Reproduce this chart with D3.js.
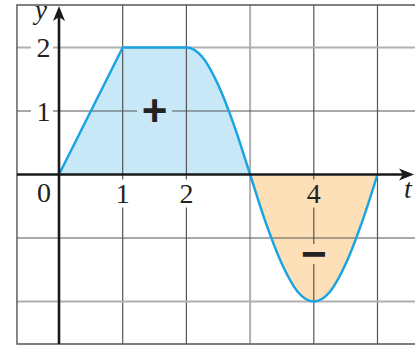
<!DOCTYPE html>
<html><head><meta charset="utf-8">
<script src="https://cdn.jsdelivr.net/npm/d3@7/dist/d3.min.js"></script>
<style>html,body{margin:0;padding:0;background:#fff;}svg{display:block;}</style>
</head><body>
<svg id="c" width="415" height="345"></svg>
<script>
// ---- data ----
const linearPart = [[0, 0], [1, 2]];
const curvedPart = [[1, 2], [2, 2], [2.25, 1.85], [2.5, 1.41], [2.75, 0.77], [3, 0],
  [3.25, -0.77], [3.5, -1.41], [3.75, -1.85], [4, -2], [4.25, -1.85], [4.5, -1.41], [4.75, -0.77], [5, 0]];
const xGrid = [1, 2, 3, 4, 5];
const yGrid = [2, 1, -1, -2];
const lightX = [3];
const lightY = [2, -2];
const xTickLabels = [{v: 1, t: "1"}, {v: 2, t: "2"}, {v: 4, t: "4"}];
const yTickLabels = [{v: 2, t: "2"}, {v: 1, t: "1"}];
const signs = [{x: 1.5, y: 1, t: "+"}, {x: 4, y: -1.25, t: "\u2212"}];
const splitX = 3;

// ---- scales ----
const x = d3.scaleLinear().domain([0, 5]).range([59, 377.5]);
const y = d3.scaleLinear().domain([-2, 2]).range([301.5, 47.5]);
const frame = {x0: x(-0.66), x1: 415, y0: y(2.67), y1: y(-2.67)};

const svg = d3.select("#c");
const blue = "#c8e8f8", orange = "#fde0b8";

// path
const l1 = d3.line().x(d => x(d[0])).y(d => y(d[1])).curve(d3.curveLinear)(linearPart);
const l2 = d3.line().x(d => x(d[0])).y(d => y(d[1])).curve(d3.curveMonotoneX)(curvedPart);
const curvePath = l1 + "L" + l2.slice(1);
const areaPath = curvePath + `L${x(5)},${y(0)}L${x(0)},${y(0)}Z`;

const defs = svg.append("defs");
defs.append("clipPath").attr("id", "cpL").append("rect")
  .attr("x", 0).attr("y", 0).attr("width", x(splitX)).attr("height", 345);
defs.append("clipPath").attr("id", "cpR").append("rect")
  .attr("x", x(splitX)).attr("y", 0).attr("width", 415).attr("height", 345);

svg.append("path").attr("d", areaPath).attr("fill", blue).attr("clip-path", "url(#cpL)");
svg.append("path").attr("d", areaPath).attr("fill", orange).attr("clip-path", "url(#cpR)");

// grid
const g = svg.append("g");
xGrid.forEach(v => {
  const light = lightX.includes(v);
  g.append("line").attr("x1", x(v)).attr("x2", x(v)).attr("y1", frame.y0).attr("y2", frame.y1)
    .attr("stroke", light ? "#b0b0b0" : "#555").attr("stroke-width", light ? 2 : 1.2);
});
yGrid.forEach(v => {
  const light = lightY.includes(v);
  g.append("line").attr("x1", frame.x0).attr("x2", frame.x1).attr("y1", y(v)).attr("y2", y(v))
    .attr("stroke", light ? "#b0b0b0" : "#555").attr("stroke-width", light ? 2 : 1.2);
});
// frame
g.append("path").attr("d", `M${frame.x1},${frame.y0}H${frame.x0}V${frame.y1}H${frame.x1}`)
  .attr("fill", "none").attr("stroke", "#555").attr("stroke-width", 1.4);

// label backgrounds
const bgColor = (v) => (v > splitX ? orange : "#fff");
xTickLabels.forEach(d => {
  svg.append("rect").attr("x", x(d.v) - 10).attr("y", y(0) + 5).attr("width", 20).attr("height", 28)
    .attr("fill", bgColor(d.v));
});
yTickLabels.forEach(d => {
  svg.append("rect").attr("x", 31).attr("y", y(d.v) - 12).attr("width", 22).attr("height", 24).attr("fill", "#fff");
});
signs.forEach(d => {
  svg.append("rect").attr("x", x(d.x) - 17.5).attr("y", y(d.y) - 10).attr("width", 35).attr("height", 20)
    .attr("fill", d.x > splitX ? orange : blue);
});

// curve
svg.append("path").attr("d", curvePath).attr("fill", "none").attr("stroke", "#1ba4e2")
  .attr("stroke-width", 2.5).attr("stroke-linejoin", "round");

// text
const serif = "'Liberation Serif','DejaVu Serif',serif";
xTickLabels.forEach(d => {
  svg.append("text").attr("x", x(d.v)).attr("y", y(0) + 28.5).attr("text-anchor", "middle")
    .attr("font-family", serif).attr("font-size", 28).attr("fill", "#222").text(d.t);
});
svg.append("text").attr("x", 44).attr("y", y(0) + 27.5).attr("text-anchor", "middle")
  .attr("font-family", serif).attr("font-size", 28).attr("fill", "#222").text("0");
yTickLabels.forEach(d => {
  svg.append("text").attr("x", 43.5).attr("y", y(d.v) + 9.5).attr("text-anchor", "middle")
    .attr("font-family", serif).attr("font-size", 28).attr("fill", "#222").text(d.t);
});
signs.forEach(d => {
  svg.append("text").attr("x", x(d.x)).attr("y", y(d.y) + 15).attr("text-anchor", "middle")
    .attr("font-family", "'Liberation Sans',Arial,sans-serif").attr("font-weight", "bold")
    .attr("font-size", 44).attr("fill", "#222").text(d.t);
});
svg.append("text").attr("x", 41).attr("y", 19).attr("text-anchor", "middle")
  .attr("font-family", serif).attr("font-style", "italic").attr("font-size", 27).attr("fill", "#222").text("y");
svg.append("text").attr("x", 404).attr("y", 198).attr("text-anchor", "start")
  .attr("font-family", serif).attr("font-style", "italic").attr("font-size", 28).attr("fill", "#222").text("t");

// axes
svg.append("line").attr("x1", frame.x0).attr("x2", 404).attr("y1", y(0)).attr("y2", y(0))
  .attr("stroke", "#1a1a1a").attr("stroke-width", 2.6);
svg.append("line").attr("x1", x(0)).attr("x2", x(0)).attr("y1", frame.y1).attr("y2", 16)
  .attr("stroke", "#1a1a1a").attr("stroke-width", 2.6);
const tipX = 414, tipY = 6, ax = x(0), ay = y(0);
svg.append("path").attr("d", `M${tipX},${ay}L${tipX - 15},${ay - 6}L${tipX - 11},${ay}L${tipX - 15},${ay + 6}Z`).attr("fill", "#1a1a1a");
svg.append("path").attr("d", `M${ax},${tipY}L${ax - 6},${tipY + 15}L${ax},${tipY + 11}L${ax + 6},${tipY + 15}Z`).attr("fill", "#1a1a1a");
</script>
</body></html>
